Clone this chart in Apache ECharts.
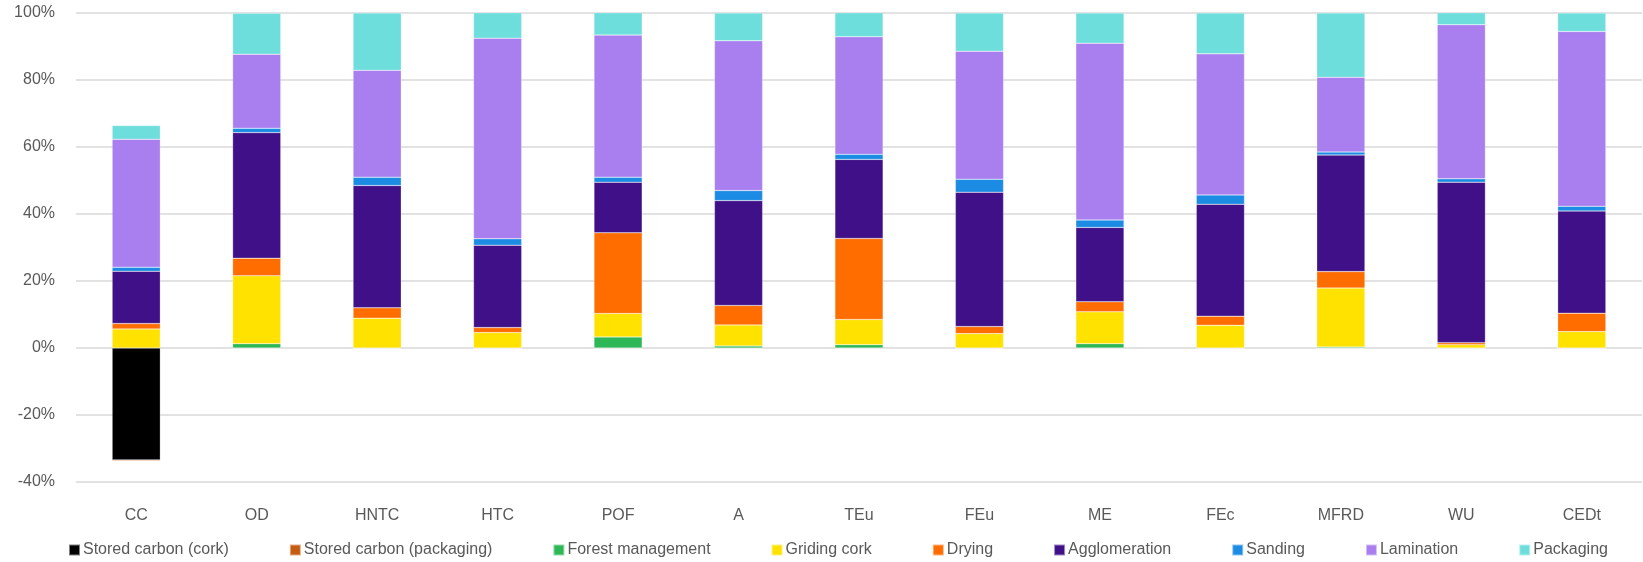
<!DOCTYPE html>
<html>
<head>
<meta charset="utf-8">
<script src="https://cdn.jsdelivr.net/npm/echarts@6/dist/echarts.min.js"></script>
<style>
html,body{margin:0;padding:0;background:#fff;}
#chart{width:1643px;height:562px;}
</style>
</head>
<body>
<div id="chart"></div>
<script>
const categories = ['CC','OD','HNTC','HTC','POF','A','TEu','FEu','ME','FEc','MFRD','WU','CEDt'];
const seriesNames = ['Stored carbon (cork)','Stored carbon (packaging)','Forest management','Griding cork','Drying','Agglomeration','Sanding','Lamination','Packaging'];
const colors = ['#000000','#C55A11','#2DB757','#FFE200','#FF6D00','#3F1087','#1B8BE3','#A97FEF','#6EDEDC'];

const storedCarbonCork      = [-33.4, 0, 0, 0, 0, 0, 0, 0, 0, 0, 0, 0, 0];
const storedCarbonPackaging = [-0.3, 0, 0, 0, 0, 0, 0, 0, 0, 0, 0, 0, 0];
const forestManagement      = [0, 1.3, 0, 0, 3.3, 0.6, 1.0, 0, 1.3, 0, 0.3, 0, 0];
const gridingCork           = [5.7, 20.3, 8.9, 4.6, 7.0, 6.3, 7.5, 4.3, 9.5, 6.8, 17.6, 1.0, 4.9];
const drying                = [1.6, 5.2, 3.1, 1.5, 24.1, 5.8, 24.2, 2.1, 3.0, 2.7, 4.9, 0.6, 5.5];
const agglomeration         = [15.6, 37.5, 36.5, 24.6, 15.1, 31.3, 23.6, 40.1, 22.2, 33.4, 34.8, 47.9, 30.5];
const sanding               = [1.2, 1.3, 2.5, 1.9, 1.5, 3.0, 1.5, 3.9, 2.2, 2.8, 0.9, 1.0, 1.4];
const lamination            = [38.2, 22.1, 31.9, 59.9, 42.4, 44.7, 35.1, 38.2, 52.8, 42.1, 22.3, 46.0, 52.2];
const packaging             = [4.1, 12.2, 17.1, 7.6, 6.7, 8.3, 7.2, 11.4, 9.0, 12.2, 19.2, 3.6, 5.5];

const yTicks = {min: -40, max: 100, interval: 20};

const dataSets = [storedCarbonCork, storedCarbonPackaging, forestManagement, gridingCork, drying, agglomeration, sanding, lamination, packaging];

const font = 'Liberation Sans, Arial, sans-serif';
const chart = echarts.init(document.getElementById('chart'), null, {renderer: 'canvas'});
chart.setOption({
  animation: false,
  backgroundColor: '#ffffff',
  color: colors,
  textStyle: {fontFamily: font},
  grid: {left: 76, right: 1, top: 13, bottom: 80, containLabel: false},
  legend: {
    top: 542,
    left: 68,
    padding: 0,
    itemWidth: 11,
    itemHeight: 11,
    itemGap: 60,
    icon: 'rect',
    textStyle: {color: '#595959', fontSize: 16, fontFamily: font, padding: [0,0,0,-2]},
    data: seriesNames
  },
  xAxis: {
    type: 'category',
    data: categories,
    axisLine: {show: false, onZero: false},
    axisTick: {show: false},
    axisLabel: {color: '#595959', fontSize: 16, margin: 26, fontFamily: font},
    splitLine: {show: false}
  },
  yAxis: {
    type: 'value',
    min: yTicks.min,
    max: yTicks.max,
    interval: yTicks.interval,
    axisLine: {show: false},
    axisTick: {show: false},
    axisLabel: {color: '#595959', fontSize: 16, margin: 21, formatter: '{value}%', fontFamily: font},
    splitLine: {show: true, lineStyle: {color: '#D9D9D9', width: 1.5}}
  },
  series: seriesNames.map((name, i) => ({
    name: name,
    type: 'bar',
    stack: 'total',
    barWidth: '40%',
    itemStyle: {color: colors[i], borderColor: 'rgba(255,255,255,0.5)', borderWidth: 0.5},
    data: dataSets[i]
  }))
});
</script>
</body>
</html>
